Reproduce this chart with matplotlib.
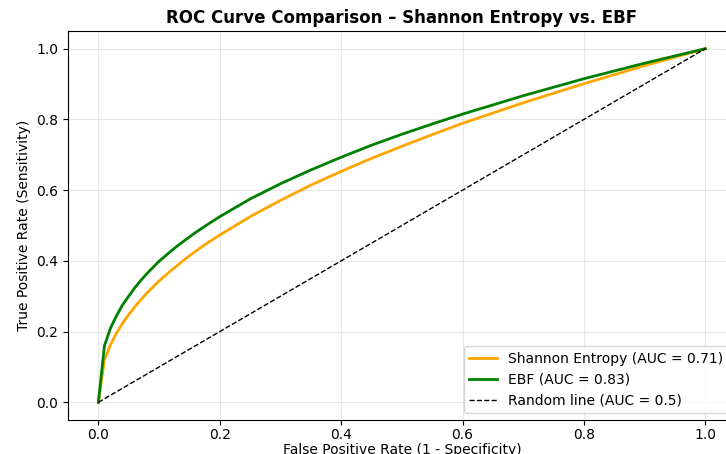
import matplotlib.pyplot as plt
import numpy as np

FPR = [0.0, 0.01, 0.02, 0.03, 0.04, 0.05, 0.06, 0.07, 0.08, 0.1, 0.12, 0.13,
       0.14, 0.16, 0.18, 0.2, 0.25, 0.3, 0.35, 0.4, 0.45, 0.5, 0.55, 0.6,
       0.7, 0.8, 0.9, 1.0]
TPR_SHANNON = [0.0, 0.12, 0.163, 0.196, 0.224, 0.248, 0.27, 0.29, 0.309, 0.343,
               0.373, 0.387, 0.401, 0.427, 0.451, 0.473, 0.525, 0.571, 0.614,
               0.653, 0.690, 0.724, 0.757, 0.789, 0.847, 0.901, 0.952, 1.0]
TPR_EBF = [0.0, 0.16, 0.21, 0.245, 0.276, 0.30, 0.324, 0.345, 0.364, 0.399,
           0.428, 0.442, 0.455, 0.48, 0.503, 0.525, 0.575, 0.618, 0.657,
           0.693, 0.727, 0.758, 0.787, 0.815, 0.867, 0.915, 0.959, 1.0]
RANDOM_LINE = [0.0, 1.0]
AUC_SHANNON = 0.71
AUC_EBF = 0.83
AUC_RANDOM = 0.5

fig = plt.figure(figsize=(7.26, 4.54), dpi=100)
# the original picture is cropped on the right, so the axes run past the edge
ax = fig.add_axes([0.0937, 0.0749, 0.9196, 0.8568])

ax.plot(FPR, TPR_SHANNON, color="orange", lw=2,
        label=f"Shannon Entropy (AUC = {AUC_SHANNON})")
ax.plot(FPR, TPR_EBF, color="green", lw=2, label=f"EBF (AUC = {AUC_EBF})")
ax.plot(RANDOM_LINE, RANDOM_LINE, "k--", lw=1,
        label=f"Random line (AUC = {AUC_RANDOM})")

ax.set_xlim(-0.05, 1.05)
ax.set_ylim(-0.05, 1.05)
ax.set_xticks(np.arange(0, 1.01, 0.2))
ax.set_yticks(np.arange(0, 1.01, 0.2))
ax.tick_params(axis="x", pad=2.5)
ax.set_xlabel("False Positive Rate (1 - Specificity)", fontsize=10, labelpad=0.5)
ax.set_ylabel("True Positive Rate (Sensitivity)", fontsize=10)
ax.set_title("ROC Curve Comparison \u2013 Shannon Entropy vs. EBF",
             fontsize=12, fontweight="bold")
ax.grid(True, alpha=0.3)
ax.legend(loc="lower right", fontsize=10)

fig.savefig("out.png", dpi=100)
